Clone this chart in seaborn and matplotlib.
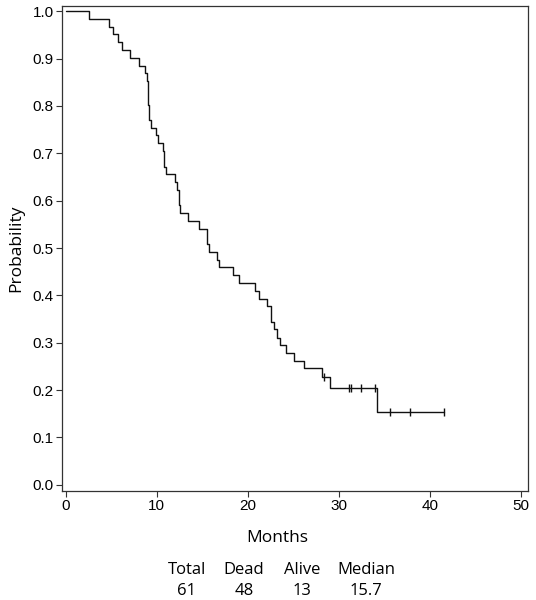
import pandas as pd
import matplotlib
matplotlib.use("Agg")
import matplotlib.pyplot as plt
import seaborn as sns

# Kaplan-Meier steps (time in months, survival after the step)
step_months = [0.0, 2.6, 4.8, 5.2, 5.8, 6.2, 7.1, 8.1, 8.7, 8.9, 9.1, 9.2, 9.4,
               9.9, 10.2, 10.7, 10.8, 11.0, 12.0, 12.2, 12.4, 12.6, 13.4, 14.6,
               15.5, 15.7, 16.6, 16.9, 18.4, 19.1, 20.8, 21.2, 22.1, 22.6, 22.9,
               23.2, 23.5, 24.2, 25.1, 26.2, 28.2, 29.0, 34.2, 41.6]
step_surv = [1.000, 0.984, 0.967, 0.951, 0.934, 0.918, 0.902, 0.885, 0.869,
             0.852, 0.803, 0.770, 0.754, 0.738, 0.721, 0.705, 0.672, 0.656,
             0.639, 0.623, 0.590, 0.574, 0.557, 0.541, 0.508, 0.492, 0.475,
             0.459, 0.443, 0.426, 0.410, 0.393, 0.377, 0.344, 0.328, 0.311,
             0.295, 0.279, 0.262, 0.246, 0.227, 0.204, 0.153, 0.153]

# censored observations
cens_months = [28.4, 31.1, 31.3, 32.5, 34.0, 35.6, 37.8, 41.6]
cens_surv = [0.227, 0.204, 0.204, 0.204, 0.204, 0.153, 0.153, 0.153]

table_heads = ["Total", "Dead", "Alive", "Median"]
table_vals = ["61", "48", "13", "15.7"]

df_km = pd.DataFrame({"Months": step_months, "Probability": step_surv})
df_cens = pd.DataFrame({"Months": cens_months, "Probability": cens_surv})

sns.set_style("ticks")
plt.rcParams["font.family"] = ["Liberation Sans", "DejaVu Sans"]
plt.rcParams["text.color"] = "black"
plt.rcParams["xtick.color"] = "black"
plt.rcParams["ytick.color"] = "black"

fig = plt.figure(figsize=(5.36, 6.0), dpi=100)
ax = fig.add_axes([62 / 536, 1 - 491 / 600, 466 / 536, 485 / 600])

line_col = "#111111"
sns.lineplot(data=df_km, x="Months", y="Probability", drawstyle="steps-post",
             color=line_col, linewidth=1.0, ax=ax, sort=False)
sns.scatterplot(data=df_cens, x="Months", y="Probability", marker="|", s=30,
                color=line_col, linewidth=1.0, ax=ax, zorder=3)

ax.set_xlim(-0.4, 50.8)
ax.set_ylim(-0.013, 1.011)
ax.set_xticks(range(0, 51, 10))
ax.set_yticks([i / 10 for i in range(11)])
ax.set_yticklabels([f"{i / 10:.1f}" for i in range(11)])
ax.tick_params(direction="out", length=4, width=0.8, labelsize=11, pad=2,
               color="#333333", labelcolor="black")
for s in ax.spines.values():
    s.set_linewidth(0.9)
    s.set_color("#333333")

ax.set_xlabel("")
ax.set_ylabel("Probability", fontsize=12.5, family="Open Sans", labelpad=6,
              color="black")

fig.text(277 / 536, 1 - 538 / 600, "Months", ha="center", va="center",
         fontsize=12.5, family="Open Sans")

col_x = [187, 244, 302, 366]
for cx, h, v in zip(col_x, table_heads, table_vals):
    fig.text(cx / 536, 1 - 570 / 600, h, ha="center", va="center",
             fontsize=12, family="Open Sans")
    fig.text(cx / 536, 1 - 591 / 600, v, ha="center", va="center",
             fontsize=12, family="Open Sans")

plt.savefig("out.png", dpi=100)
